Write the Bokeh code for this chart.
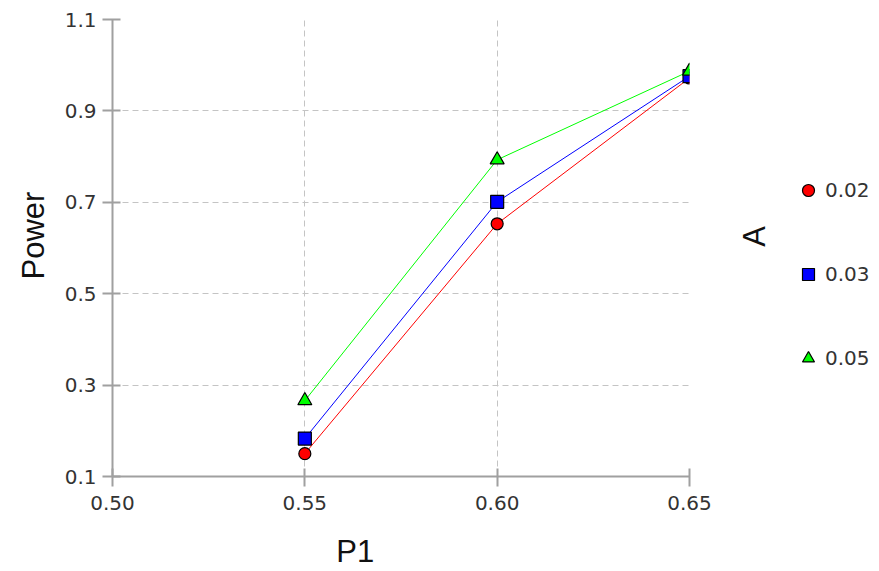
from bokeh.plotting import figure
from bokeh.models import Range1d, Legend, LegendItem, FixedTicker, LinearAxis, Title
from bokeh.layouts import row
from bokeh.embed import file_html
from bokeh.resources import INLINE
import math

p1 = [0.55, 0.60, 0.65]
power_002 = [0.150, 0.653, 0.972]
power_003 = [0.183, 0.701, 0.976]
power_005 = [0.266, 0.793, 0.987]
series_labels = ["0.02", "0.03", "0.05"]
x_ticks = [0.50, 0.55, 0.60, 0.65]
y_ticks = [0.1, 0.3, 0.5, 0.7, 0.9, 1.1]
x_title, y_title, legend_title = "P1", "Power", "A"

TICK_FONT = "DejaVu Sans"
TITLE_FONT = "Liberation Sans"

p = figure(width=792, height=571, output_backend="svg", toolbar_location=None,
           x_range=Range1d(0.50, 0.65), y_range=Range1d(0.1, 1.1),
           min_border_left=112, min_border_right=103, min_border_top=19, min_border_bottom=95)
p.outline_line_color = None

for ax in (p.xaxis[0], p.yaxis[0]):
    ax.axis_line_color = "#a0a0a0"
    ax.axis_line_width = 2
    ax.major_tick_line_color = "#a0a0a0"
    ax.major_tick_line_width = 2
    ax.major_tick_in = 8
    ax.major_tick_out = 10
    ax.minor_tick_line_color = None
    ax.major_label_text_font = TICK_FONT
    ax.major_label_text_font_size = "20px"
    ax.major_label_text_color = "#333333"

p.xaxis[0].ticker = FixedTicker(ticks=x_ticks)
p.yaxis[0].ticker = FixedTicker(ticks=y_ticks)
p.xaxis[0].major_label_overrides = {t: f"{t:.2f}" for t in x_ticks}
p.yaxis[0].major_label_overrides = {t: f"{t:.1f}" for t in y_ticks}
p.xaxis[0].major_label_standoff = 9
p.yaxis[0].major_label_standoff = 6

for g in (p.xgrid[0], p.ygrid[0]):
    g.grid_line_color = "#c4c4c4"
    g.grid_line_dash = "6 4"
    g.grid_line_width = 1


def title_axis(pos, text, standoff, orientation):
    return LinearAxis(ticker=FixedTicker(ticks=[pos]), major_label_overrides={pos: text},
                      axis_line_color=None, major_tick_line_color=None, minor_tick_line_color=None,
                      major_tick_in=0, major_tick_out=0, major_label_standoff=standoff,
                      major_label_orientation=orientation, major_label_text_font=TITLE_FONT,
                      major_label_text_font_size="31px", major_label_text_color="#111111")


p.add_layout(Title(text=y_title, align="left", offset=197, standoff=21,
                   text_font=TITLE_FONT, text_font_size="31px", text_font_style="normal",
                   text_color="#111111"), "left")
p.add_layout(title_axis(0.5631, x_title, 21, "horizontal"), "below")
p.add_layout(title_axis(0.603, legend_title, 65, math.pi / 2), "right")

colors = ["#ff0000", "#0000ff", "#00ff00"]
markers = ["circle", "square", "triangle"]
sizes = [12, 13, 14]
series = [power_002, power_003, power_005]
for ys, c in zip(series, colors):
    p.line(p1, ys, line_color=c, line_width=1)
for ys, c, m, s in zip(series, colors, markers, sizes):
    p.scatter(p1, ys, marker=m, size=s, fill_color=c, line_color="black", line_width=1.2)

# legend panel (its glyph renderers hold the data but lie outside its view range)
lg = figure(width=87, height=571, output_backend="svg", toolbar_location=None,
            x_range=Range1d(5, 6), y_range=Range1d(5, 6),
            x_axis_location=None, y_axis_location=None,
            min_border_left=0, min_border_right=0, min_border_top=19, min_border_bottom=95)
lg.outline_line_color = None
lg.xgrid.visible = False
lg.ygrid.visible = False
items = []
for ys, c, m, s, lab in zip(series, colors, markers, sizes, series_labels):
    r = lg.scatter(p1, ys, marker=m, size=s, fill_color=c, line_color="black", line_width=1.2)
    items.append(LegendItem(label=lab, renderers=[r]))
legend = Legend(items=items, location=(1, 103), orientation="vertical",
                glyph_width=30, glyph_height=30, label_height=30, spacing=54,
                padding=0, margin=0, label_standoff=2,
                label_text_font=TICK_FONT, label_text_font_size="20px", label_text_color="#333333",
                border_line_color=None, background_fill_alpha=0)
lg.add_layout(legend, "center")

layout = row(p, lg, spacing=0)
open("out.html", "w").write(file_html(layout, INLINE))
